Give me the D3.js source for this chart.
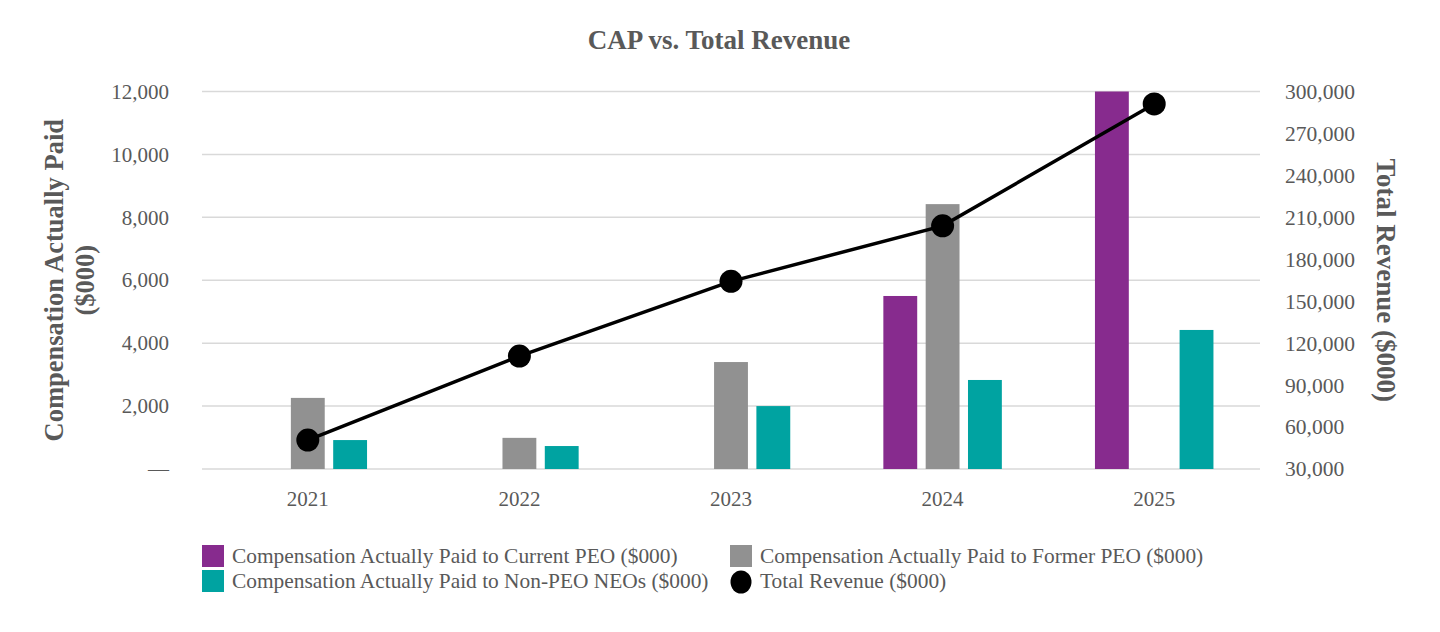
<!DOCTYPE html>
<html>
<head>
<meta charset="utf-8">
<script src="https://cdn.jsdelivr.net/npm/d3@7"></script>
<style>
    body { margin: 0; background: #fff; }
    text { font-family: "Liberation Serif", "Times New Roman", serif; fill: #595959; }
</style>
</head>
<body>
<svg id="chart"></svg>
<script>
var years = ["2021", "2022", "2023", "2024", "2025"];
var currentPeo = [null, null, null, 5500, 12000];
var formerPeo = [2260, 990, 3400, 8420, null];
var nonPeoNeos = [920, 730, 2000, 2830, 4420];
var totalRevenue = [50700, 110800, 164200, 203900, 291100];

var leftTicks = [0, 2000, 4000, 6000, 8000, 10000, 12000];
var rightTicks = [30000, 60000, 90000, 120000, 150000, 180000, 210000, 240000, 270000, 300000];

var seriesNames = [
    "Compensation Actually Paid to Current PEO ($000)",
    "Compensation Actually Paid to Former PEO ($000)",
    "Compensation Actually Paid to Non-PEO NEOs ($000)",
    "Total Revenue ($000)"
];
var barColors = ["#872b8e", "#919191", "#00a3a1"];

var width = 1440, height = 632;
var plot = {left: 202, right: 1260, top: 91.5, bottom: 469};

var svg = d3.select("#chart")
    .attr("width", width)
    .attr("height", height);

var x0 = d3.scaleBand().domain(years).range([plot.left, plot.right]);
var x1 = d3.scaleBand().domain([0, 1, 2]).range([0, x0.bandwidth()])
    .paddingInner(0.2).paddingOuter(1.1);
var yLeft = d3.scaleLinear().domain([0, 12000]).range([plot.bottom, plot.top]);
var yRight = d3.scaleLinear().domain([30000, 300000]).range([plot.bottom, plot.top]);

// title
svg.append("text")
    .attr("x", 719)
    .attr("y", 49)
    .attr("text-anchor", "middle")
    .style("font-size", "27px")
    .style("font-weight", "bold")
    .text("CAP vs. Total Revenue");

// gridlines
svg.append("g")
    .selectAll("line")
    .data(leftTicks)
    .enter().append("line")
    .attr("x1", plot.left)
    .attr("x2", plot.right)
    .attr("y1", function (d) { return yLeft(d); })
    .attr("y2", function (d) { return yLeft(d); })
    .style("stroke", "#d9d9d9")
    .style("stroke-width", 1.5);

// left axis
var leftAxis = d3.axisLeft(yLeft)
    .tickValues(leftTicks)
    .tickSize(0)
    .tickPadding(33)
    .tickFormat(function (d) { return d === 0 ? "\u2014" : d3.format(",")(d); });
var gl = svg.append("g")
    .attr("transform", "translate(" + plot.left + ",0)")
    .call(leftAxis);
gl.select(".domain").remove();
gl.selectAll("text").style("font-size", "21px").attr("fill", "#595959");

// right axis
var rightAxis = d3.axisRight(yRight)
    .tickValues(rightTicks)
    .tickSize(0)
    .tickPadding(25)
    .tickFormat(d3.format(","));
var gr = svg.append("g")
    .attr("transform", "translate(" + plot.right + ",0)")
    .call(rightAxis);
gr.select(".domain").remove();
gr.selectAll("text").style("font-size", "21.5px").attr("fill", "#595959");

// x axis labels
var xAxis = d3.axisBottom(x0).tickSize(0).tickPadding(22);
var gx = svg.append("g")
    .attr("transform", "translate(0," + plot.bottom + ")")
    .call(xAxis);
gx.select(".domain").remove();
gx.selectAll("text").style("font-size", "21px").attr("fill", "#595959");

// axis titles
svg.append("text")
    .attr("transform", "translate(63," + ((plot.top + plot.bottom) / 2) + ") rotate(-90)")
    .attr("text-anchor", "middle")
    .style("font-size", "26.5px")
    .style("font-weight", "bold")
    .text("Compensation Actually Paid");
svg.append("text")
    .attr("transform", "translate(94," + ((plot.top + plot.bottom) / 2) + ") rotate(-90)")
    .attr("text-anchor", "middle")
    .style("font-size", "26.5px")
    .style("font-weight", "bold")
    .text("($000)");
svg.append("text")
    .attr("transform", "translate(1377," + ((plot.top + plot.bottom) / 2) + ") rotate(90)")
    .attr("text-anchor", "middle")
    .style("font-size", "27px")
    .style("font-weight", "bold")
    .text("Total Revenue ($000)");

// bars
var barSeries = [currentPeo, formerPeo, nonPeoNeos];
barSeries.forEach(function (values, s) {
    svg.append("g")
        .selectAll("rect")
        .data(years.map(function (yr, i) { return {year: yr, value: values[i]}; })
            .filter(function (d) { return d.value !== null; }))
        .enter().append("rect")
        .attr("x", function (d) { return x0(d.year) + x1(s); })
        .attr("width", x1.bandwidth())
        .attr("y", function (d) { return yLeft(Math.min(d.value, 12000)); })
        .attr("height", function (d) { return plot.bottom - yLeft(Math.min(d.value, 12000)); })
        .style("fill", barColors[s]);
});

// revenue line
var revPoints = years.map(function (yr, i) { return {year: yr, value: totalRevenue[i]}; });
var line = d3.line()
    .x(function (d) { return x0(d.year) + x0.bandwidth() / 2; })
    .y(function (d) { return yRight(d.value); });
svg.append("path")
    .datum(revPoints)
    .attr("d", line)
    .style("fill", "none")
    .style("stroke", "#000")
    .style("stroke-width", 3.5);
svg.append("g")
    .selectAll("circle")
    .data(revPoints)
    .enter().append("circle")
    .attr("cx", function (d) { return x0(d.year) + x0.bandwidth() / 2; })
    .attr("cy", function (d) { return yRight(d.value); })
    .attr("r", 11.5)
    .style("fill", "#000");

// legend
var legendItems = [
    {name: seriesNames[0], color: barColors[0], x: 202, y: 556, type: "rect"},
    {name: seriesNames[1], color: barColors[1], x: 730, y: 556, type: "rect"},
    {name: seriesNames[2], color: barColors[2], x: 202, y: 581, type: "rect"},
    {name: seriesNames[3], color: "#000", x: 730, y: 581, type: "circle"}
];
var legend = svg.append("g")
    .selectAll("g")
    .data(legendItems)
    .enter().append("g")
    .attr("transform", function (d) { return "translate(" + d.x + "," + d.y + ")"; });
legend.filter(function (d) { return d.type === "rect"; })
    .append("rect")
    .attr("x", 0)
    .attr("y", -11)
    .attr("width", 22)
    .attr("height", 22)
    .style("fill", function (d) { return d.color; });
legend.filter(function (d) { return d.type === "circle"; })
    .append("ellipse")
    .attr("cx", 11)
    .attr("cy", 1)
    .attr("rx", 10.5)
    .attr("ry", 11.5)
    .style("fill", function (d) { return d.color; });
legend.append("text")
    .attr("x", 30)
    .attr("y", 7)
    .style("font-size", "21.4px")
    .text(function (d) { return d.name; });
</script>
</body>
</html>
